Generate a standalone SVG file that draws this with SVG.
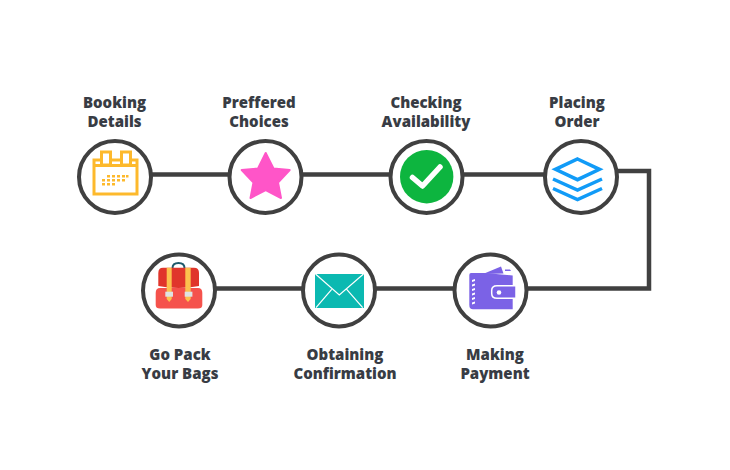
<svg xmlns="http://www.w3.org/2000/svg" width="730" height="470" viewBox="0 0 730 470">
<style>
.ring{fill:#fff;stroke:#404040;stroke-width:4}
.lbl{font-family:"Open Sans","Liberation Sans",sans-serif;font-weight:800;font-size:15px;fill:#383c44;text-anchor:middle}
.conn{fill:none;stroke:#404040;stroke-width:4.500}
.cal{fill:#fff;stroke:#fdb92c;stroke-width:3}
.layer{fill:none;stroke:#119bf7;stroke-width:3.500}
</style>
<rect width="730" height="470" fill="#fff"/>
<g id="connectors">
<path class="conn" d="M115 174.500H581"/>
<path class="conn" d="M610 171H649V288.500H179"/>
</g>
<g id="booking-details">
<circle class="ring" cx="115" cy="177" r="36"/>
<rect class="cal" x="94" y="160" width="43" height="34"/>
<path class="cal" d="M94 165.500H137"/>
<rect class="cal" x="101.500" y="152" width="9" height="13"/>
<rect class="cal" x="121.500" y="152" width="9" height="13"/>
<path fill="#fdb92c" d="M107 175h3v2.500h-3zM112 175h3v2.500h-3zM117 175h3v2.500h-3zM122 175h3v2.500h-3zM126 175h2.500v2.500h-2.500zM102 179h3v2.500h-3zM107 179h3v2.500h-3zM112 179h3v2.500h-3zM117 179h3v2.500h-3zM122 179h3v2.500h-3zM102 183h3v2.500h-3zM107 183h3v2.500h-3zM112 183h3v2.500h-3z"/>
<text class="lbl" x="114.500" y="107.800">Booking</text>
<text class="lbl" x="114.500" y="126.800">Details</text>
</g>
<g id="preffered-choices">
<circle class="ring" cx="265.500" cy="177" r="36"/>
<path fill="#ff55c8" stroke="#ff55c8" stroke-width="2" stroke-linejoin="round" d="M265.700 153L273.500 168.500L289.700 170L278 182.500L281 198L265.700 190L250.500 198L253.500 182.500L241.700 170L258 168.500Z"/>
<text class="lbl" x="259" y="107.800">Preffered</text>
<text class="lbl" x="259" y="126.800">Choices</text>
</g>
<g id="checking-availability">
<circle class="ring" cx="426.500" cy="177" r="36"/>
<circle fill="#0db53f" cx="426.700" cy="176.700" r="26.700"/>
<path fill="none" stroke="#fff" stroke-width="5.500" stroke-linecap="round" stroke-linejoin="round" d="M412.500 177.500L422.500 186L440 167"/>
<text class="lbl" x="426" y="107.800">Checking</text>
<text class="lbl" x="426" y="126.800">Availability</text>
</g>
<g id="placing-order">
<circle class="ring" cx="581" cy="177" r="36"/>
<path class="layer" d="M577.500 159L599.500 169.300L577.500 179.700L555.500 169.300Z"/>
<path class="layer" d="M553 179L577.500 190L602 179"/>
<path class="layer" d="M553 188.500L577.500 199.500L602 188.500"/>
<text class="lbl" x="577" y="107.800">Placing</text>
<text class="lbl" x="577" y="126.800">Order</text>
</g>
<g id="making-payment">
<circle class="ring" cx="490.500" cy="290.500" r="36"/>
<path fill="#7b62e6" d="M483 274L501 266.500L503.500 273.500Z"/>
<path fill="#7b62e6" d="M505 269.500H510L511 271H505Z"/>
<path fill="#7b62e6" d="M471 273H485L512.700 275.500V309.300H473Q469.300 309.300 469.300 305V275Q469.300 273 471 273Z"/>
<path fill="#7b62e6" stroke="#fff" stroke-width="1.500" d="M516 285.700H497Q491.700 285.700 491.700 290.500V293.500Q491.700 298.300 497 298.300H516Z"/>
<circle cx="499" cy="292.500" r="2.300" fill="#fff"/>
<path fill="#fff" d="M472 280l3-1v2l-3 1zM472 284.500l3-1v2l-3 1zM472 289l3-1v2l-3 1zM472 293.500l3-1v2l-3 1zM472 298l3-1v2l-3 1zM472 302.500l3-1v2l-3 1z"/>
<text class="lbl" x="495" y="359.600">Making</text>
<text class="lbl" x="495" y="378.600">Payment</text>
</g>
<g id="obtaining-confirmation">
<circle class="ring" cx="339" cy="290.500" r="36"/>
<rect x="315" y="274" width="49" height="34" fill="#0bb9b1"/>
<path fill="none" stroke="#fff" stroke-width="1.200" d="M315.500 274L339.300 295L363.500 274M316 307.700L331.700 289.300M362.700 307.700L346.700 289.300"/>
<text class="lbl" x="345" y="359.600">Obtaining</text>
<text class="lbl" x="345" y="378.600">Confirmation</text>
</g>
<g id="go-pack-your-bags">
<circle class="ring" cx="179" cy="290.500" r="36"/>
<path fill="none" stroke="#1f5a6b" stroke-width="2" d="M172.500 268Q172.500 263 178.500 263Q184.500 263 184.500 268"/>
<path fill="#f5524c" d="M155.700 293Q155.700 288 160 288H198Q202.300 288 202.300 293V305Q202.300 308.500 198 308.500H160Q155.700 308.500 155.700 305Z"/>
<path fill="#e0352b" d="M163 267.700H194Q199 267.700 199 273V286Q189 288 178.500 288Q168 288 158.300 286V273Q158.300 267.700 163 267.700Z"/>
<path fill="#fcc14e" d="M166.700 267.700H171.700V299L169.200 302L166.700 299ZM185.300 267.700H190.700V299L188 302L185.300 299Z"/>
<rect x="165.300" y="291.700" width="7.700" height="5" fill="#dfe3e3"/>
<rect x="184.700" y="291.700" width="7.700" height="5" fill="#dfe3e3"/>
<text class="lbl" x="180" y="359.600">Go Pack</text>
<text class="lbl" x="180" y="378.600">Your Bags</text>
</g>
</svg>
